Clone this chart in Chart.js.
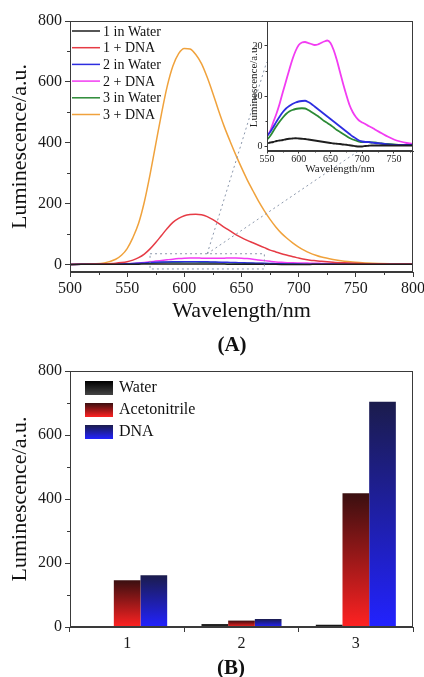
<!DOCTYPE html>
<html>
<head>
<meta charset="utf-8">
<script src="https://cdn.jsdelivr.net/npm/chart.js@4.4.1/dist/chart.umd.min.js"></script>
<style>
  html, body { margin: 0; padding: 0; background: #fff; }
  #wrap { position: relative; width: 424px; height: 677px; overflow: hidden; font-family: 'Liberation Serif', 'Times New Roman', serif; }
  #wrap canvas { position: absolute; }
  .tag { position: absolute; font-weight: bold; font-size: 21px; color: #111; transform: translate(-50%, -50%); }
</style>
</head>
<body>
<div id="wrap">
  <canvas id="spec" width="424" height="332" style="left:0;top:0"></canvas>
  <canvas id="inset" width="183" height="165" style="left:232px;top:15px"></canvas>
  <div class="tag" style="left:232px;top:344px">(A)</div>
  <canvas id="bars" width="424" height="300" style="left:0;top:355px"></canvas>
  <div class="tag" style="left:231px;top:667px">(B)</div>
</div>
<script>
// emission spectra (nm, a.u.)
const wavelength = [500,510,520,530,540,545,550,555,560,565,570,575,580,585,590,595,600,605,610,615,620,625,630,635,640,645,650,655,660,665,670,675,680,685,690,695,700,705,710,715,720,730,740,750,760,770,780,790,800];
const water1 = [0,0.1,0.1,0.2,0.3,0.4,0.5,0.7,0.8,1.0,1.1,1.2,1.35,1.45,1.5,1.55,1.5,1.45,1.4,1.3,1.2,1.1,1.0,0.9,0.8,0.7,0.6,0.5,0.45,0.4,0.3,0.25,0.15,0.05,-0.05,-0.1,-0.1,0,0.05,0.1,0.1,0.1,0.1,0.1,0.1,0.1,0.1,0.1,0.1];
const dna1 = [0,0.5,1,2,4,6,9,14,22,34,51,72,95,118,138,151,160,164,165,163,157,147,135,122,110,98,88,79,71,63,55,47,41,35,30,25,21,17,14,12,10,7,5,3.5,2.5,2,1.5,1,1];
const water2 = [0,0.1,0.3,0.6,1.1,1.5,2,2.8,3.8,4.9,5.9,6.8,7.5,8.0,8.4,8.7,8.9,9.0,9.05,8.8,8.4,7.9,7.4,6.9,6.4,5.9,5.4,4.9,4.4,3.9,3.4,2.9,2.4,1.9,1.5,1.1,0.9,0.8,0.8,0.7,0.6,0.5,0.3,0.2,0.2,0.2,0.2,0.1,0.1];
const dna2 = [0,0.2,0.4,0.7,1.2,1.5,2,3,4.8,6.5,8.5,10.8,13,15.2,17.3,19,20.2,20.7,20.8,20.6,20.4,20.2,20.3,20.6,20.9,21.1,20.6,19.2,17.2,14.8,12.4,10.2,8.2,6.8,5.8,5.1,4.7,4.4,4.0,3.7,3.3,2.6,1.9,1.3,0.9,0.6,0.4,0.3,0.2];
const water3 = [0,0.1,0.2,0.4,0.8,1.0,1.3,2.0,3.0,4.0,4.9,5.7,6.4,6.9,7.2,7.4,7.5,7.55,7.5,7.2,6.8,6.4,6.0,5.5,5.0,4.6,4.2,3.7,3.2,2.8,2.4,2.0,1.6,1.3,1.1,0.9,0.8,0.8,0.8,0.7,0.7,0.5,0.4,0.3,0.2,0.2,0.2,0.1,0.1];
const dna3 = [0,0.5,2,5,17,30,52,88,135,205,295,395,495,585,652,693,710,708,690,660,615,562,505,452,405,360,318,278,242,207,176,148,123,102,85,70,57,46,37,30,24,16,10,7,4.5,3,2,1.5,1];

const seriesNames = ['1 in Water', '1 + DNA', '2 in Water', '2 + DNA', '3 in Water', '3 + DNA'];
const seriesValues = [water1, dna1, water2, dna2, water3, dna3];
const seriesColors = ['#1e1e1e', '#e63b45', '#2d2de0', '#f23cf2', '#2b8a35', '#f0a23c'];
const insetSeries = [0, 2, 4, 3];  // indexes shown in the zoomed inset

const specTicksX = [500, 550, 600, 650, 700, 750, 800];
const specMinorX = [525, 575, 625, 675, 725, 775];
const specTicksY = [0, 200, 400, 600, 800];
const specMinorY = [100, 300, 500, 700];
const insetTicksX = [550, 600, 650, 700, 750];
const insetMinorX = [575, 625, 675, 725, 775];
const insetTicksY = [0, 10, 20];
const insetMinorY = [5, 15];

// luminescence maxima (bar chart)
const compounds = ['1', '2', '3'];
const barNames = ['Water', 'Acetonitrile', 'DNA'];
const waterBars = [2, 9, 7];
const acetonitrileBars = [146, 20, 418];
const dnaBars = [162, 25, 704];
const barTicksY = [0, 200, 400, 600, 800];
const barMinorY = [100, 300, 500, 700];

const SERIF = "'Liberation Serif', 'Times New Roman', serif";
const AXIS = '#3a3a3a';
Chart.defaults.font.family = SERIF;
Chart.defaults.color = '#1a1a1a';

const fixTicks = list => s => { s.ticks = list.map(v => ({ value: v })); };

const framePlugin = {
  id: 'frame',
  beforeDraw(chart, args, o) {
    if (!o.fill) return;
    const { ctx, chartArea: a } = chart;
    ctx.save(); ctx.fillStyle = o.fill;
    ctx.fillRect(a.left, a.top, a.right - a.left, a.bottom - a.top);
    ctx.restore();
  },
  afterDraw(chart, args, o) {
    const { ctx, chartArea: a, scales } = chart;
    ctx.save();
    ctx.strokeStyle = AXIS; ctx.lineWidth = 1;
    ctx.strokeRect(Math.round(a.left) + 0.5, Math.round(a.top) + 0.5, Math.round(a.right - a.left) - 1, Math.round(a.bottom - a.top) - 1);
    ctx.beginPath();
    (o.xMinor || []).forEach(v => {
      const x = Math.round(scales.x.getPixelForValue(v)) + 0.5;
      ctx.moveTo(x, a.bottom); ctx.lineTo(x, a.bottom + o.minorLen);
    });
    (o.yMinor || []).forEach(v => {
      const y = Math.round(scales.y.getPixelForValue(v)) + 0.5;
      ctx.moveTo(a.left, y); ctx.lineTo(a.left - o.minorLen, y);
    });
    ctx.stroke();
    ctx.restore();
  }
};

// dotted box around the zoomed region + leader lines toward the inset
const zoomBox = { x0: 570, x1: 670, y0: -15, y1: 35 };
const leaderFrom = { x: 620, y: 35 };
const leaderTo = [{ x: 672, y: 665 }, { x: 752, y: 372 }];
const zoomPlugin = {
  id: 'zoomBox',
  afterDatasetsDraw(chart) {
    const { ctx, scales: { x, y } } = chart;
    ctx.save();
    ctx.strokeStyle = '#8b97ab'; ctx.lineWidth = 1; ctx.setLineDash([2, 3]);
    ctx.strokeRect(x.getPixelForValue(zoomBox.x0), y.getPixelForValue(zoomBox.y1),
      x.getPixelForValue(zoomBox.x1) - x.getPixelForValue(zoomBox.x0),
      y.getPixelForValue(zoomBox.y0) - y.getPixelForValue(zoomBox.y1));
    ctx.beginPath();
    leaderTo.forEach(p => {
      ctx.moveTo(x.getPixelForValue(leaderFrom.x), y.getPixelForValue(leaderFrom.y));
      ctx.lineTo(x.getPixelForValue(p.x), y.getPixelForValue(p.y));
    });
    ctx.stroke();
    ctx.restore();
  }
};

const lineLegend = {
  id: 'lineLegend',
  afterDraw(chart) {
    const { ctx, chartArea: a } = chart;
    ctx.save();
    ctx.font = '14px ' + SERIF; ctx.textBaseline = 'middle'; ctx.fillStyle = '#111';
    chart.data.datasets.forEach((ds, i) => {
      const yy = a.top + 10 + i * 16.7;
      ctx.strokeStyle = ds.borderColor; ctx.lineWidth = 1.5;
      ctx.beginPath(); ctx.moveTo(a.left + 2, yy); ctx.lineTo(a.left + 30, yy); ctx.stroke();
      ctx.fillText(ds.label, a.left + 33, yy + 1);
    });
    ctx.restore();
  }
};

const barGradients = [['#000000', '#444444'], ['#3a0f10', '#ff2222'], ['#1b1c4c', '#2222ff']];
function barFill(k) {
  const [top, bottom] = barGradients[k];
  return c => {
    const chart = c.chart;
    if (!chart.chartArea || c.type !== 'data') return bottom;
    const ys = chart.scales.y;
    const y0 = ys.getPixelForValue(0), y1 = ys.getPixelForValue(c.raw);
    if (!isFinite(y1) || y0 - y1 < 2) return top;
    const g = chart.ctx.createLinearGradient(0, y1, 0, y0);
    g.addColorStop(0, top); g.addColorStop(1, bottom);
    return g;
  };
}

const boxLegend = {
  id: 'boxLegend',
  afterDraw(chart) {
    const { ctx, chartArea: a } = chart;
    ctx.save();
    ctx.font = '16px ' + SERIF; ctx.textBaseline = 'middle'; ctx.fillStyle = '#111';
    chart.data.datasets.forEach((ds, i) => {
      const x = a.left + 15, y = a.top + 10 + i * 22;
      const g = ctx.createLinearGradient(0, y, 0, y + 14);
      g.addColorStop(0, barGradients[i][0]); g.addColorStop(1, barGradients[i][1]);
      ctx.fillStyle = g; ctx.fillRect(x, y, 28, 14);
      ctx.fillStyle = '#111';
      ctx.fillText(ds.label, a.left + 49, y + 7);
    });
    ctx.restore();
  }
};

function axisX(ticks, opts) {
  return Object.assign({
    afterBuildTicks: fixTicks(ticks),
    ticks: { font: { size: 16 }, color: '#1a1a1a', padding: 2, maxRotation: 0, autoSkip: false },
    grid: { drawOnChartArea: false, tickLength: 5, tickColor: AXIS },
    border: { color: AXIS }
  }, opts);
}

new Chart(document.getElementById('spec'), {
  type: 'line',
  data: {
    datasets: seriesValues.map((vals, i) => ({
      label: seriesNames[i],
      data: wavelength.map((w, j) => ({ x: w, y: vals[j] })),
      borderColor: seriesColors[i], borderWidth: 1.5, pointRadius: 0,
      cubicInterpolationMode: 'monotone'
    }))
  },
  options: {
    responsive: false, animation: false,
    layout: { padding: { top: 21, right: 11, left: 0, bottom: 0 } },
    plugins: { legend: { display: false }, tooltip: { enabled: false },
      frame: { xMinor: specMinorX, yMinor: specMinorY, minorLen: 3 } },
    scales: {
      x: axisX(specTicksX, {
        type: 'linear', min: 500, max: 800,
        afterFit: s => { s.height = 60; s.paddingLeft = 0; s.paddingRight = 0; },
        title: { display: true, text: 'Wavelength/nm', font: { size: 22 }, color: '#111', padding: { top: 0, bottom: 8 } }
      }),
      y: {
        min: -25, max: 800,
        afterBuildTicks: fixTicks(specTicksY),
        afterFit: s => { s.width = 70; s.paddingTop = 0; s.paddingBottom = 0; },
        ticks: { font: { size: 16 }, color: '#1a1a1a', padding: 3 },
        grid: { drawOnChartArea: false, tickLength: 5, tickColor: AXIS },
        border: { color: AXIS },
        title: { display: true, text: 'Luminescence/a.u.', font: { size: 22 }, color: '#111', padding: { top: 7, bottom: 0 } }
      }
    }
  },
  plugins: [framePlugin, zoomPlugin, lineLegend]
});

new Chart(document.getElementById('inset'), {
  type: 'line',
  data: {
    datasets: insetSeries.map(i => ({
      label: seriesNames[i],
      data: wavelength.map((w, j) => ({ x: w, y: seriesValues[i][j] })),
      borderColor: seriesColors[i], borderWidth: 1.8, pointRadius: 0,
      cubicInterpolationMode: 'monotone'
    }))
  },
  options: {
    responsive: false, animation: false,
    layout: { padding: { top: 6, right: 2, left: 0, bottom: 0 } },
    plugins: { legend: { display: false }, tooltip: { enabled: false },
      frame: { fill: '#ffffff', xMinor: insetMinorX, yMinor: insetMinorY, minorLen: 1.5 } },
    scales: {
      x: {
        type: 'linear', min: 550, max: 780,
        afterBuildTicks: fixTicks(insetTicksX),
        afterFit: s => { s.height = 29; s.paddingLeft = 0; s.paddingRight = 0; },
        ticks: { font: { size: 10 }, color: '#222', padding: 0, maxRotation: 0, autoSkip: false },
        grid: { drawOnChartArea: false, tickLength: 2.5, tickColor: AXIS },
        border: { color: AXIS },
        title: { display: true, text: 'Wavelength/nm', font: { size: 11 }, color: '#222', padding: { top: 0, bottom: 4 } }
      },
      y: {
        min: -1, max: 25,
        afterBuildTicks: fixTicks(insetTicksY),
        afterFit: s => { s.width = 35; s.paddingTop = 0; s.paddingBottom = 0; },
        ticks: { font: { size: 10 }, color: '#222', padding: 2 },
        grid: { drawOnChartArea: false, tickLength: 2.5, tickColor: AXIS },
        border: { color: AXIS },
        title: { display: true, text: 'Luminescence/a.u.', font: { size: 11 }, color: '#222', padding: { top: 16, bottom: 0 } }
      }
    }
  },
  plugins: [framePlugin]
});

new Chart(document.getElementById('bars'), {
  type: 'bar',
  data: {
    labels: compounds,
    datasets: [waterBars, acetonitrileBars, dnaBars].map((vals, k) => ({
      label: barNames[k], data: vals, backgroundColor: barFill(k),
      borderWidth: 0, barPercentage: 1, categoryPercentage: 0.7
    }))
  },
  options: {
    responsive: false, animation: false,
    layout: { padding: { top: 16, right: 11, left: 0, bottom: 0 } },
    plugins: { legend: { display: false }, tooltip: { enabled: false },
      frame: { yMinor: barMinorY, minorLen: 3 } },
    scales: {
      x: {
        afterFit: s => { s.height = 28; s.paddingLeft = 0; s.paddingRight = 0; },
        ticks: { font: { size: 16 }, color: '#1a1a1a', padding: 2, maxRotation: 0 },
        grid: { drawOnChartArea: false, tickLength: 5, tickColor: AXIS, offset: true },
        border: { color: AXIS }
      },
      y: {
        min: 0, max: 800,
        afterBuildTicks: fixTicks(barTicksY),
        afterFit: s => { s.width = 70; s.paddingTop = 0; s.paddingBottom = 0; },
        ticks: { font: { size: 16 }, color: '#1a1a1a', padding: 3 },
        grid: { drawOnChartArea: false, tickLength: 5, tickColor: AXIS },
        border: { color: AXIS },
        title: { display: true, text: 'Luminescence/a.u.', font: { size: 22 }, color: '#111', padding: { top: 7, bottom: 0 } }
      }
    }
  },
  plugins: [framePlugin, boxLegend]
});
</script>
</body>
</html>
